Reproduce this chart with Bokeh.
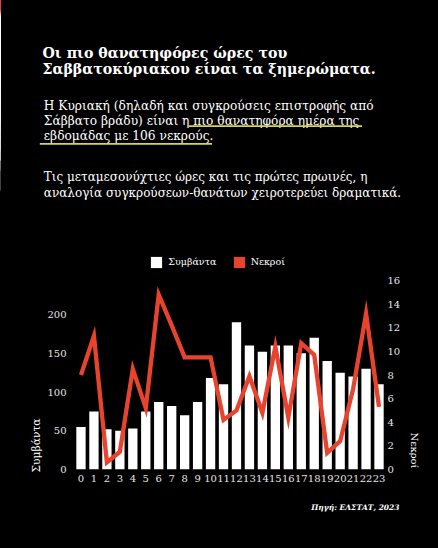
from bokeh.plotting import figure
from bokeh.layouts import column
from bokeh.models import Range1d, LinearAxis, FixedTicker, Legend, LegendItem, Title, ColumnDataSource
from bokeh.core.properties import value
from bokeh.embed import file_html
from bokeh.resources import INLINE

# ---- data ----
hours = list(range(24))
hour_labels = [str(h) for h in hours]
incidents = [55, 75, 52, 50, 53, 75, 87, 82, 70, 87, 118, 110,
             190, 160, 152, 160, 160, 150, 170, 140, 125, 120, 130, 110]
deaths = [8.0, 11.3, 0.6, 1.5, 8.5, 5.2, 14.8, 12.2, 9.5, 9.5, 9.5, 4.2,
          5.0, 7.9, 4.8, 10.4, 4.4, 10.7, 9.7, 1.4, 2.4, 6.8, 13.2, 5.3]
left_ticks = [0, 50, 100, 150, 200]
right_ticks = [0, 2, 4, 6, 8, 10, 12, 14, 16]

title_lines = ["Οι πιο θανατηφόρες ώρες του",
               "Σαββατοκύριακου είναι τα ξημερώματα."]
para1 = ["Η Κυριακή (δηλαδή και συγκρούσεις επιστροφής από",
         "Σάββατο βράδυ) είναι η πιο θανατηφόρα ημέρα της",
         "εβδομάδας με 106 νεκρούς."]
para2 = ["Τις μεταμεσονύχτιες ώρες και τις πρώτες πρωινές, η",
         "αναλογία συγκρούσεων-θανάτων χειροτερεύει δραματικά."]
series_names = ["Συμβάντα", "Νεκροί"]
source_text = "Πηγή: ΕΛΣΤΑΤ, 2023"

FONT = "DejaVu Serif"
WHITE = "#ffffff"
TICK = "#e6e6e6"
RED = "#e8432d"
YELLOW = "#d8d25c"
BG = "#000000"

W = 438
TOP_H = 272

src = ColumnDataSource(dict(x=hours, inc=incidents, d=deaths))

# ---------- text block (pixel coordinates, y downwards) ----------
t = figure(width=W, height=TOP_H, output_backend="svg", toolbar_location=None, title=None,
           x_range=Range1d(0, W), y_range=Range1d(TOP_H, 0),
           x_axis_type=None, y_axis_type=None,
           min_border_left=0, min_border_right=0, min_border_top=0, min_border_bottom=0)
t.frame_align = False
t.background_fill_color = BG
t.border_fill_color = BG
t.outline_line_color = None
t.xgrid.visible = False
t.ygrid.visible = False

t.text(x=[42] * 2, y=[52.7, 68.3], text=title_lines, text_font=value(FONT),
       text_font_size=value("14.2px"), text_font_style="bold", text_color=WHITE,
       text_baseline="alphabetic", text_align="left")
t.text(x=[43.3] * 3, y=[105, 120.5, 135.8], text=para1, text_font=value(FONT),
       text_font_size=value("12.2px"), text_color=WHITE,
       text_baseline="alphabetic", text_align="left")
t.text(x=[43.3] * 2, y=[176.7, 192.3], text=para2, text_font=value(FONT),
       text_font_size=value("12px"), text_color=WHITE,
       text_baseline="alphabetic", text_align="left")
# yellow highlight underlines
t.segment(x0=[188.5, 39.3], y0=[125.7, 143.4], x1=[361.5, 211.5], y1=[125.7, 143.4],
          line_color=YELLOW, line_width=1.8)

# legend swatches: proxies drawn on an off-screen range, only their legend glyphs show
t.extra_x_ranges = {"off": Range1d(1000, 1001)}
sw_inc = t.vbar(x="x", top="inc", source=src, x_range_name="off", width=0.72,
                fill_color=WHITE, line_color=None)
sw_dea = t.vbar(x="x", top="d", source=src, x_range_name="off", width=0.72,
                fill_color=RED, line_color=None)
for rend, lab, lx in [(sw_inc, series_names[0], 149.3), (sw_dea, series_names[1], 231.7)]:
    lg = Legend(items=[LegendItem(label=lab, renderers=[rend])], location=(lx, TOP_H - 268.7),
                orientation="horizontal", padding=0, margin=0, spacing=0,
                glyph_width=14, glyph_height=14, label_height=14, label_standoff=5,
                label_text_font=FONT, label_text_font_size="9.5px", label_text_color=WHITE,
                label_text_baseline="middle",
                background_fill_alpha=0, border_line_color=None)
    t.add_layout(lg, "center")

# ---------- chart ----------
p = figure(width=W, height=548 - TOP_H, output_backend="svg", toolbar_location=None, title=None,
           x_range=Range1d(-0.5, 23.5), y_range=Range1d(0, 244),
           min_border_left=74, min_border_right=53, min_border_top=8, min_border_bottom=79)
p.frame_align = False
p.extra_y_ranges = {"right": Range1d(0, 16)}
p.background_fill_color = BG
p.border_fill_color = BG
p.outline_line_color = None
p.xgrid.visible = False
p.ygrid.visible = False

p.vbar(x="x", top="inc", width=0.72, source=src, fill_color=WHITE, line_color=None)
p.line(x="x", y="d", source=src, y_range_name="right", line_color=RED, line_width=4.3,
       line_join="miter")

def style_axis(ax):
    ax.axis_line_color = None
    ax.major_tick_line_color = None
    ax.minor_tick_line_color = None
    ax.major_tick_out = 0
    ax.major_tick_in = 0
    ax.minor_tick_out = 0
    ax.minor_tick_in = 0
    ax.major_label_text_color = TICK
    ax.major_label_text_font = FONT
    ax.major_label_text_font_size = "10px"

p.xaxis.ticker = FixedTicker(ticks=hours)
p.xaxis.major_label_overrides = {h: l for h, l in zip(hours, hour_labels)}
p.xaxis.major_label_standoff = 5
style_axis(p.xaxis[0])
p.yaxis.ticker = FixedTicker(ticks=left_ticks)
p.yaxis.major_label_standoff = 8
style_axis(p.yaxis[0])

raxis = LinearAxis(y_range_name="right", ticker=FixedTicker(ticks=right_ticks))
style_axis(raxis)
raxis.major_label_standoff = 2
p.add_layout(raxis, "right")

p.add_layout(Title(text=series_names[0], align="left", offset=-3, standoff=3,
                   text_font=FONT, text_font_size="10.7px", text_font_style="normal",
                   text_color=WHITE), "left")
p.add_layout(Title(text=series_names[1], align="right", offset=1, standoff=11,
                   text_font=FONT, text_font_size="10px", text_font_style="normal",
                   text_color=WHITE), "right")
p.add_layout(Title(text=source_text, align="right", offset=-14, standoff=33,
                   text_font=FONT, text_font_size="7.5px", text_font_style="bold italic",
                   text_color=WHITE), "below")

layout = column(t, p, spacing=0)
html = file_html(layout, INLINE)
html = html.replace("</head>", "<style>html,body{background:#000000;}</style></head>", 1)
open("out.html", "w").write(html)
